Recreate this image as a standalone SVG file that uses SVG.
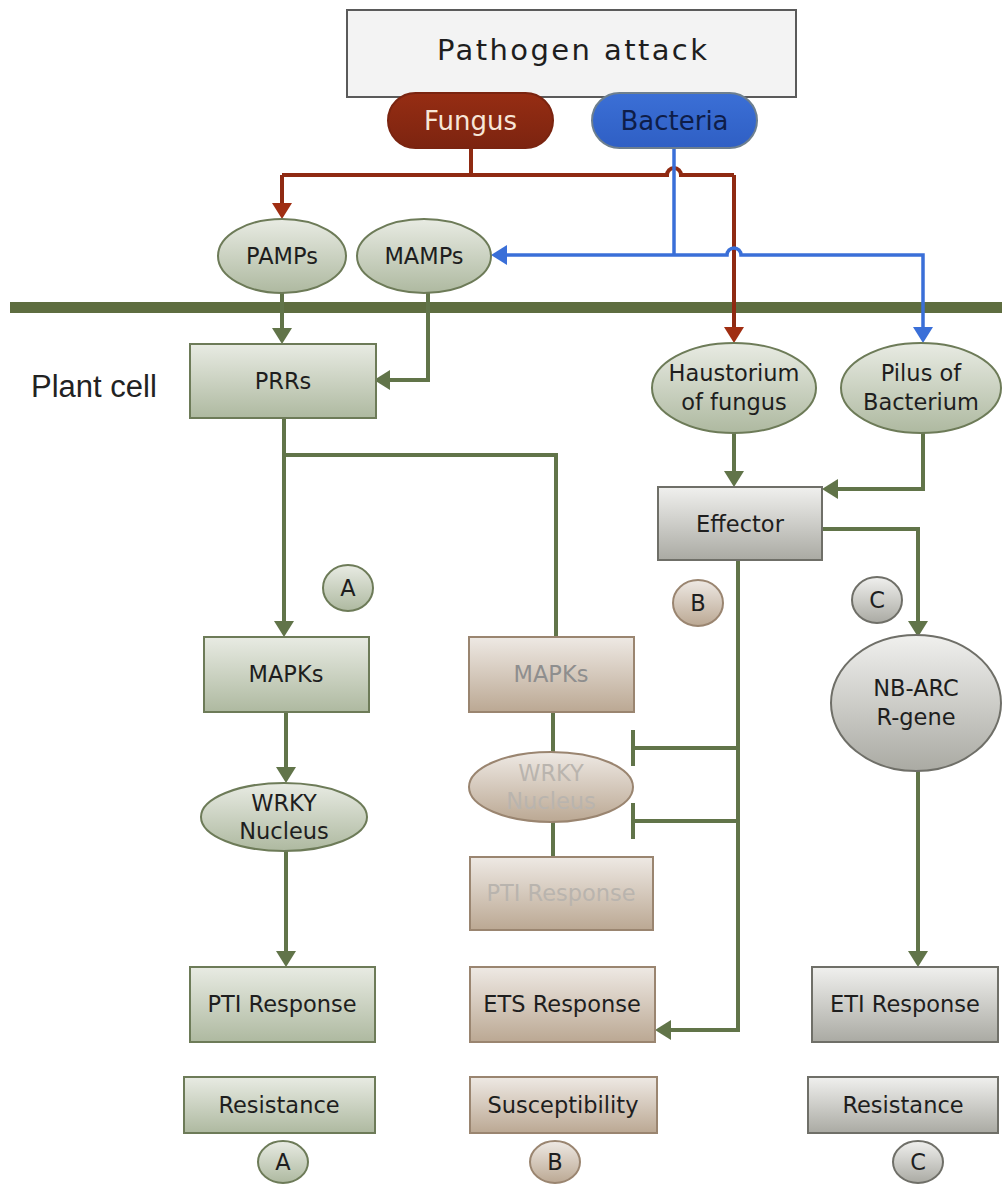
<svg xmlns="http://www.w3.org/2000/svg" width="1002" height="1184" viewBox="0 0 1002 1184">
<style>
.lbl{font-family:"DejaVu Sans","Liberation Sans",sans-serif;font-size:22.5px;fill:#1e1e1e;text-anchor:middle}
.pale{fill:#8e8e8e}
.paler{fill:#b9b4ae}
.gn{fill:url(#gGreen);stroke:#6d7b58;stroke-width:2}
.tn{fill:url(#gTan);stroke:#9a8570;stroke-width:2}
.gy{fill:url(#gGrey);stroke:#6f6f68;stroke-width:2}
.cg{fill:none;stroke:#617449;stroke-width:4}
.cr{fill:none;stroke:#8f2a12;stroke-width:4}
.cb{fill:none;stroke:#3a6fd8;stroke-width:3.5}
</style>
<defs>
<linearGradient id="gGreen" x1="0" y1="0" x2="0" y2="1"><stop offset="0" stop-color="#e8ebe3"/><stop offset="1" stop-color="#aeb9a0"/></linearGradient>
<linearGradient id="gTan" x1="0" y1="0" x2="0" y2="1"><stop offset="0" stop-color="#eee9e4"/><stop offset="1" stop-color="#bba893"/></linearGradient>
<linearGradient id="gGrey" x1="0" y1="0" x2="0" y2="1"><stop offset="0" stop-color="#f0f0ee"/><stop offset="1" stop-color="#aaaaa3"/></linearGradient>
<linearGradient id="gRed" x1="0" y1="0" x2="0" y2="1"><stop offset="0" stop-color="#962d13"/><stop offset="1" stop-color="#7c2410"/></linearGradient>
<linearGradient id="gBlue" x1="0" y1="0" x2="0" y2="1"><stop offset="0" stop-color="#3b6fd6"/><stop offset="1" stop-color="#2f5fc4"/></linearGradient>
<marker id="aG" markerUnits="userSpaceOnUse" markerWidth="16" markerHeight="20" viewBox="0 0 16 20" refX="13" refY="10" orient="auto"><path d="M0,0 L16,10 L0,20 z" fill="#617449"/></marker>
<marker id="aR" markerUnits="userSpaceOnUse" markerWidth="16" markerHeight="20" viewBox="0 0 16 20" refX="13" refY="10" orient="auto"><path d="M0,0 L16,10 L0,20 z" fill="#a02e12"/></marker>
<marker id="aB" markerUnits="userSpaceOnUse" markerWidth="16" markerHeight="20" viewBox="0 0 16 20" refX="13" refY="10" orient="auto"><path d="M0,0 L16,10 L0,20 z" fill="#3a6fd8"/></marker>
</defs>
<rect width="1002" height="1184" fill="#ffffff"/>

<!-- membrane -->
<line x1="10" y1="307.5" x2="1002" y2="307.5" stroke="#5e6d40" stroke-width="11"/>
<text x="31" y="397" style="font-family:'Liberation Sans',Arial,sans-serif;font-size:31px;fill:#222">Plant cell</text>

<g id="connectors">
<!-- red -->
<path class="cr" d="M471,148 V175"/>
<path class="cr" d="M282,175 H667 A7,7 0 0 1 681,175 H734"/>
<path class="cr" d="M282,175 V216" marker-end="url(#aR)"/>
<path class="cr" d="M734,175 V340" marker-end="url(#aR)"/>
<!-- blue -->
<path class="cb" d="M674,148 V255"/>
<path class="cb" d="M674,255 H494" marker-end="url(#aB)"/>
<path class="cb" d="M674,255 H727 A7,7 0 0 1 741,255 H923 V340" marker-end="url(#aB)"/>
<!-- green -->
<path class="cg" d="M282,293 V341" marker-end="url(#aG)"/>
<path class="cg" d="M428,293 V380 H377" marker-end="url(#aG)"/>
<path class="cg" d="M284,418 V634" marker-end="url(#aG)"/>
<path class="cg" d="M284,455 H556 V637"/>
<path class="cg" d="M286,712 V780" marker-end="url(#aG)"/>
<path class="cg" d="M286,851 V964" marker-end="url(#aG)"/>
<path class="cg" d="M553,712 V752"/>
<path class="cg" d="M553,822 V857"/>
<path class="cg" d="M738,560 V1030 H658" marker-end="url(#aG)"/>
<path class="cg" d="M738,748 H633 M633,730 V766"/>
<path class="cg" d="M738,821 H633 M633,803 V839"/>
<path class="cg" d="M734,433 V484" marker-end="url(#aG)"/>
<path class="cg" d="M923,433 V489 H825" marker-end="url(#aG)"/>
<path class="cg" d="M822,529 H918 V634" marker-end="url(#aG)"/>
<path class="cg" d="M918,771 V964" marker-end="url(#aG)"/>
</g>

<g id="pathogen"><rect x="347" y="10" width="449" height="87" fill="#f3f3f3" stroke="#5a5a5a" stroke-width="2"/><text class="lbl" x="572" y="60" style="font-size:29px" textLength="270">Pathogen attack</text></g>
<g id="fungus"><rect x="388" y="93" width="165" height="55" rx="27.5" fill="url(#gRed)" stroke="#7a2410" stroke-width="2"/><text class="lbl" x="470.5" y="130" style="font-size:26px;fill:#f7e6d8">Fungus</text></g>
<g id="bacteria"><rect x="592" y="93" width="165" height="55" rx="27.5" fill="url(#gBlue)" stroke="#6d7f8f" stroke-width="2"/><text class="lbl" x="674.5" y="130" style="font-size:26px;fill:#0e1d48">Bacteria</text></g>

<g id="pamps"><ellipse class="gn" cx="282" cy="256" rx="64" ry="37"/><text class="lbl" x="282" y="264">PAMPs</text></g>
<g id="mamps"><ellipse class="gn" cx="424" cy="256" rx="67" ry="37"/><text class="lbl" x="424" y="264">MAMPs</text></g>

<g id="prrs"><rect class="gn" x="190" y="344" width="186" height="74"/><text class="lbl" x="283" y="389">PRRs</text></g>
<g id="haustorium"><ellipse class="gn" cx="734" cy="388" rx="82" ry="45"/><text class="lbl" x="734" y="381">Haustorium</text><text class="lbl" x="734" y="410">of fungus</text></g>
<g id="pilus"><ellipse class="gn" cx="921" cy="388" rx="80" ry="45"/><text class="lbl" x="921" y="381">Pilus of</text><text class="lbl" x="921" y="410">Bacterium</text></g>
<g id="effector"><rect class="gy" x="658" y="487" width="164" height="73"/><text class="lbl" x="740" y="532">Effector</text></g>

<g id="circleA1"><ellipse class="gn" cx="348" cy="588" rx="25" ry="23"/><text class="lbl" x="348" y="596">A</text></g>
<g id="circleB1"><ellipse class="tn" cx="698" cy="603" rx="25" ry="23"/><text class="lbl" x="698" y="611">B</text></g>
<g id="circleC1"><ellipse class="gy" cx="877" cy="600" rx="25" ry="23"/><text class="lbl" x="877" y="608">C</text></g>

<g id="mapksA"><rect class="gn" x="204" y="637" width="165" height="75"/><text class="lbl" x="286" y="682">MAPKs</text></g>
<g id="mapksB"><rect class="tn" x="469" y="637" width="165" height="75"/><text class="lbl pale" x="551" y="682">MAPKs</text></g>
<g id="nbarc"><ellipse class="gy" cx="916" cy="703" rx="85" ry="68"/><text class="lbl" x="916" y="696">NB-ARC</text><text class="lbl" x="916" y="725">R-gene</text></g>

<g id="wrkyA"><ellipse class="gn" cx="284" cy="817" rx="83" ry="34"/><text class="lbl" x="284" y="811">WRKY</text><text class="lbl" x="284" y="839">Nucleus</text></g>
<g id="wrkyB"><ellipse class="tn" cx="551" cy="787" rx="82" ry="35"/><text class="lbl paler" x="551" y="781">WRKY</text><text class="lbl paler" x="551" y="809">Nucleus</text></g>
<g id="ptiB"><rect class="tn" x="470" y="857" width="183" height="73"/><text class="lbl paler" x="561" y="901">PTI Response</text></g>

<g id="ptiA"><rect class="gn" x="190" y="967" width="185" height="75"/><text class="lbl" x="282" y="1012">PTI Response</text></g>
<g id="ets"><rect class="tn" x="470" y="967" width="185" height="75"/><text class="lbl" x="562" y="1012">ETS Response</text></g>
<g id="eti"><rect class="gy" x="812" y="967" width="186" height="75"/><text class="lbl" x="905" y="1012">ETI Response</text></g>

<g id="resA"><rect class="gn" x="184" y="1077" width="191" height="56"/><text class="lbl" x="279" y="1113">Resistance</text></g>
<g id="susB"><rect class="tn" x="470" y="1077" width="187" height="56"/><text class="lbl" x="563" y="1113">Susceptibility</text></g>
<g id="resC"><rect class="gy" x="808" y="1077" width="190" height="56"/><text class="lbl" x="903" y="1113">Resistance</text></g>

<g id="circleA2"><ellipse class="gn" cx="283" cy="1162" rx="25" ry="21"/><text class="lbl" x="283" y="1170">A</text></g>
<g id="circleB2"><ellipse class="tn" cx="555" cy="1162" rx="25" ry="21"/><text class="lbl" x="555" y="1170">B</text></g>
<g id="circleC2"><ellipse class="gy" cx="918" cy="1162" rx="25" ry="21"/><text class="lbl" x="918" y="1170">C</text></g>
</svg>
